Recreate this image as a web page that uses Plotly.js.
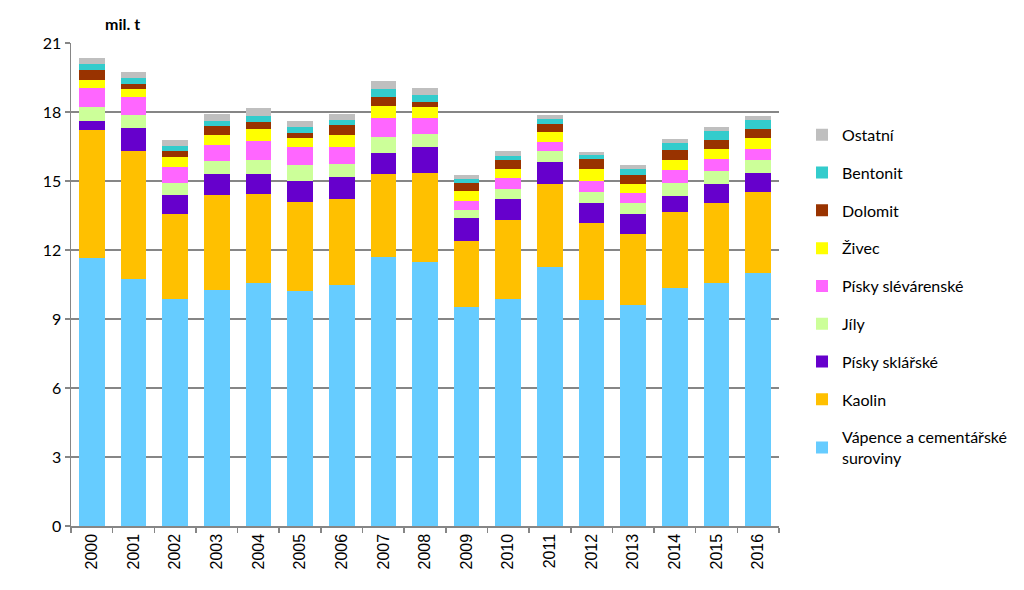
<!DOCTYPE html>
<html>
<head>
<meta charset="utf-8">
<script src="https://cdn.plot.ly/plotly-3.0.1.min.js"></script>
<style>html,body{margin:0;padding:0;background:#fff;}#chart{width:1024px;height:590px;}</style>
</head>
<body>
<div id="chart"></div>
<script>
var years = ["2000","2001","2002","2003","2004","2005","2006","2007","2008","2009","2010","2011","2012","2013","2014","2015","2016"];
var vapence  = [11.64,10.75,9.88,10.26,10.55,10.20,10.47,11.68,11.47,9.51,9.86,11.25,9.84,9.60,10.35,10.55,11.00];
var kaolin   = [5.58,5.54,3.67,4.13,3.88,3.87,3.73,3.62,3.86,2.88,3.46,3.62,3.33,3.11,3.29,3.48,3.52];
var pskl     = [0.40,1.00,0.84,0.93,0.86,0.93,0.99,0.92,1.14,1.00,0.88,0.96,0.86,0.87,0.72,0.83,0.84];
var jily     = [0.60,0.58,0.54,0.54,0.64,0.68,0.56,0.68,0.56,0.35,0.45,0.47,0.49,0.45,0.54,0.57,0.54];
var pslev    = [0.82,0.78,0.69,0.71,0.81,0.79,0.74,0.85,0.72,0.40,0.47,0.41,0.48,0.44,0.58,0.53,0.49];
var zivec    = [0.36,0.35,0.42,0.43,0.52,0.39,0.51,0.50,0.47,0.44,0.39,0.43,0.52,0.40,0.42,0.44,0.47];
var dolomit  = [0.43,0.22,0.28,0.39,0.31,0.23,0.43,0.40,0.20,0.32,0.39,0.35,0.42,0.37,0.45,0.39,0.41];
var bentonit = [0.26,0.25,0.21,0.23,0.24,0.25,0.24,0.36,0.32,0.18,0.20,0.19,0.17,0.27,0.30,0.39,0.38];
var ostatni  = [0.24,0.25,0.25,0.28,0.36,0.25,0.24,0.35,0.32,0.18,0.20,0.19,0.17,0.17,0.18,0.17,0.18];

var seriesNames = ["Vápence a cementářské<br>suroviny","Kaolin","Písky sklářské","Jíly","Písky slévárenské","Živec","Dolomit","Bentonit","Ostatní"];
var seriesData = [vapence,kaolin,pskl,jily,pslev,zivec,dolomit,bentonit,ostatni];
var seriesColors = ["#66CCFF","#FFC000","#6600CC","#CCFF99","#FF66FF","#FFFF00","#993300","#33CCCC","#BFBFBF"];

var traces = seriesNames.map(function(n,i){
  return {type:"bar", name:n, x:years, y:seriesData[i], legendgroup:"g"+i, legendrank:1000-i,
    marker:{color:seriesColors[i], line:{width:0}}, hoverinfo:"y+name"};
});

var layout = {
  width:1024, height:590,
  margin:{l:71, r:234, t:43, b:64},
  paper_bgcolor:"#fff", plot_bgcolor:"#fff",
  barmode:"stack", bargap:0.385,
  font:{family:"Lato, 'Open Sans', sans-serif", size:15, color:"#000"},
  xaxis:{type:"category", tickson:"boundaries", ticks:"outside", ticklen:5, tickcolor:"#868686", tickwidth:1.5,
    showline:true, linecolor:"#868686", linewidth:1.5, showgrid:false, tickangle:-90,
    tickfont:{family:"'Liberation Sans', Arial, sans-serif", size:16, color:"#000"}},
  yaxis:{range:[0,21], dtick:3, tick0:0, ticks:"outside", ticklen:5, tickcolor:"#868686", tickwidth:1.5,
    showline:true, linecolor:"#868686", linewidth:1.5, showgrid:true, gridcolor:"#868686", gridwidth:1.5,
    zeroline:false, tickfont:{family:"Lato, sans-serif", size:16, color:"#000"}},
  legend:{x:1.0325, y:0.845, xanchor:"left", yanchor:"top", traceorder:"grouped", tracegroupgap:14,
    font:{family:"Lato, sans-serif", size:16, color:"#000"}, itemwidth:30, bgcolor:"rgba(0,0,0,0)"},
  annotations:[{text:"<b>mil. t</b>", xref:"paper", yref:"paper", x:0.045, y:1.0, xanchor:"left", yanchor:"bottom",
    yshift:8, showarrow:false, font:{family:"Lato, sans-serif", size:16, color:"#000"}}]
};
Plotly.newPlot("chart", traces, layout, {displayModeBar:false, staticPlot:true});
</script>
</body>
</html>
